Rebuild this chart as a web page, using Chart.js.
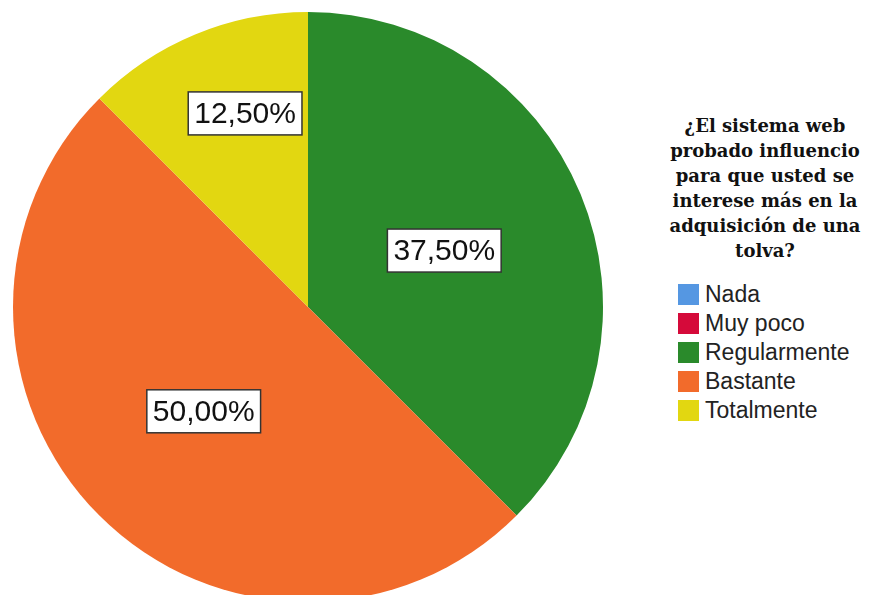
<!DOCTYPE html>
<html>
<head>
<meta charset="utf-8">
<script src="https://cdn.jsdelivr.net/npm/chart.js@4/dist/chart.umd.min.js"></script>
<style>
  html, body { margin: 0; padding: 0; background: #fff; }
  #wrap { position: relative; width: 872px; height: 595px; overflow: hidden; }
  #box { position: absolute; left: 0; top: 0; width: 620px; height: 620px; }
  #side { position: absolute; left: 655px; top: 113px; width: 220px; }
  #title { font-family: "DejaVu Serif", serif; font-weight: bold; font-size: 18px;
           line-height: 25px; text-align: center; color: #111; }
  #legend { margin-top: 17px; margin-left: 23px; }
  .item { height: 29px; display: flex; align-items: center; font-family: "Liberation Sans", Arial, sans-serif;
          font-size: 23px; color: #222; }
  .sw { width: 21px; height: 21px; margin-right: 6px; }
</style>
</head>
<body>
<div id="wrap">
  <div id="box"><canvas id="pie"></canvas></div>
  <div id="side">
    <div id="title">¿El sistema web<br>probado influencio<br>para que usted se<br>interese más en la<br>adquisición de una<br>tolva?</div>
    <div id="legend"></div>
  </div>
</div>
<script>
var categorias = ['Nada', 'Muy poco', 'Regularmente', 'Bastante', 'Totalmente'];
var porcentajes = [0, 0, 37.5, 50, 12.5];
var colores = ['#5597E2', '#D50A3A', '#2A8A2B', '#F26B2B', '#E2D711'];

// leyenda a la derecha
var leg = document.getElementById('legend');
categorias.forEach(function (c, i) {
  var row = document.createElement('div');
  row.className = 'item';
  row.innerHTML = '<div class="sw" style="background:' + colores[i] + '"></div>' + c;
  leg.appendChild(row);
});

function fmt(v) {
  return v.toFixed(2).replace('.', ',') + '%';
}

// etiquetas con caja blanca encima de cada porcion
var etiquetas = {
  id: 'etiquetas',
  afterDatasetsDraw: function (chart) {
    var ctx = chart.ctx;
    var meta = chart.getDatasetMeta(0);
    ctx.save();
    ctx.font = '30px "Liberation Sans", Arial, sans-serif';
    ctx.textAlign = 'center';
    ctx.textBaseline = 'middle';
    meta.data.forEach(function (arc, i) {
      var v = porcentajes[i];
      if (!v) return;
      // las porciones chicas llevan la etiqueta mas afuera
      var chica = v < 20;
      var ang = arc.startAngle + (arc.endAngle - arc.startAngle) * (chica ? 0.6 : 0.5);
      var f = chica ? 0.69 : 0.5;
      var x = arc.x + Math.cos(ang) * arc.outerRadius * f;
      var y = arc.y + Math.sin(ang) * arc.outerRadius * f;
      var txt = fmt(v);
      var w = ctx.measureText(txt).width + 12;
      var h = 43;
      ctx.fillStyle = '#fff';
      ctx.fillRect(x - w / 2, y - h / 2, w, h);
      ctx.strokeStyle = '#333';
      ctx.lineWidth = 1.5;
      ctx.strokeRect(x - w / 2, y - h / 2, w, h);
      ctx.fillStyle = '#111';
      ctx.fillText(txt, x, y + 1);
    });
    ctx.restore();
  }
};

var ctx = document.getElementById('pie').getContext('2d');
new Chart(ctx, {
  type: 'pie',
  data: {
    labels: categorias,
    datasets: [{
      data: porcentajes,
      backgroundColor: colores,
      borderWidth: 0
    }]
  },
  options: {
    responsive: true,
    maintainAspectRatio: false,
    animation: false,
    layout: { padding: { left: 13, top: 12, right: 17, bottom: 18 } },
    plugins: {
      legend: { display: false },
      tooltip: { enabled: false }
    }
  },
  plugins: [etiquetas]
});
</script>
</body>
</html>
